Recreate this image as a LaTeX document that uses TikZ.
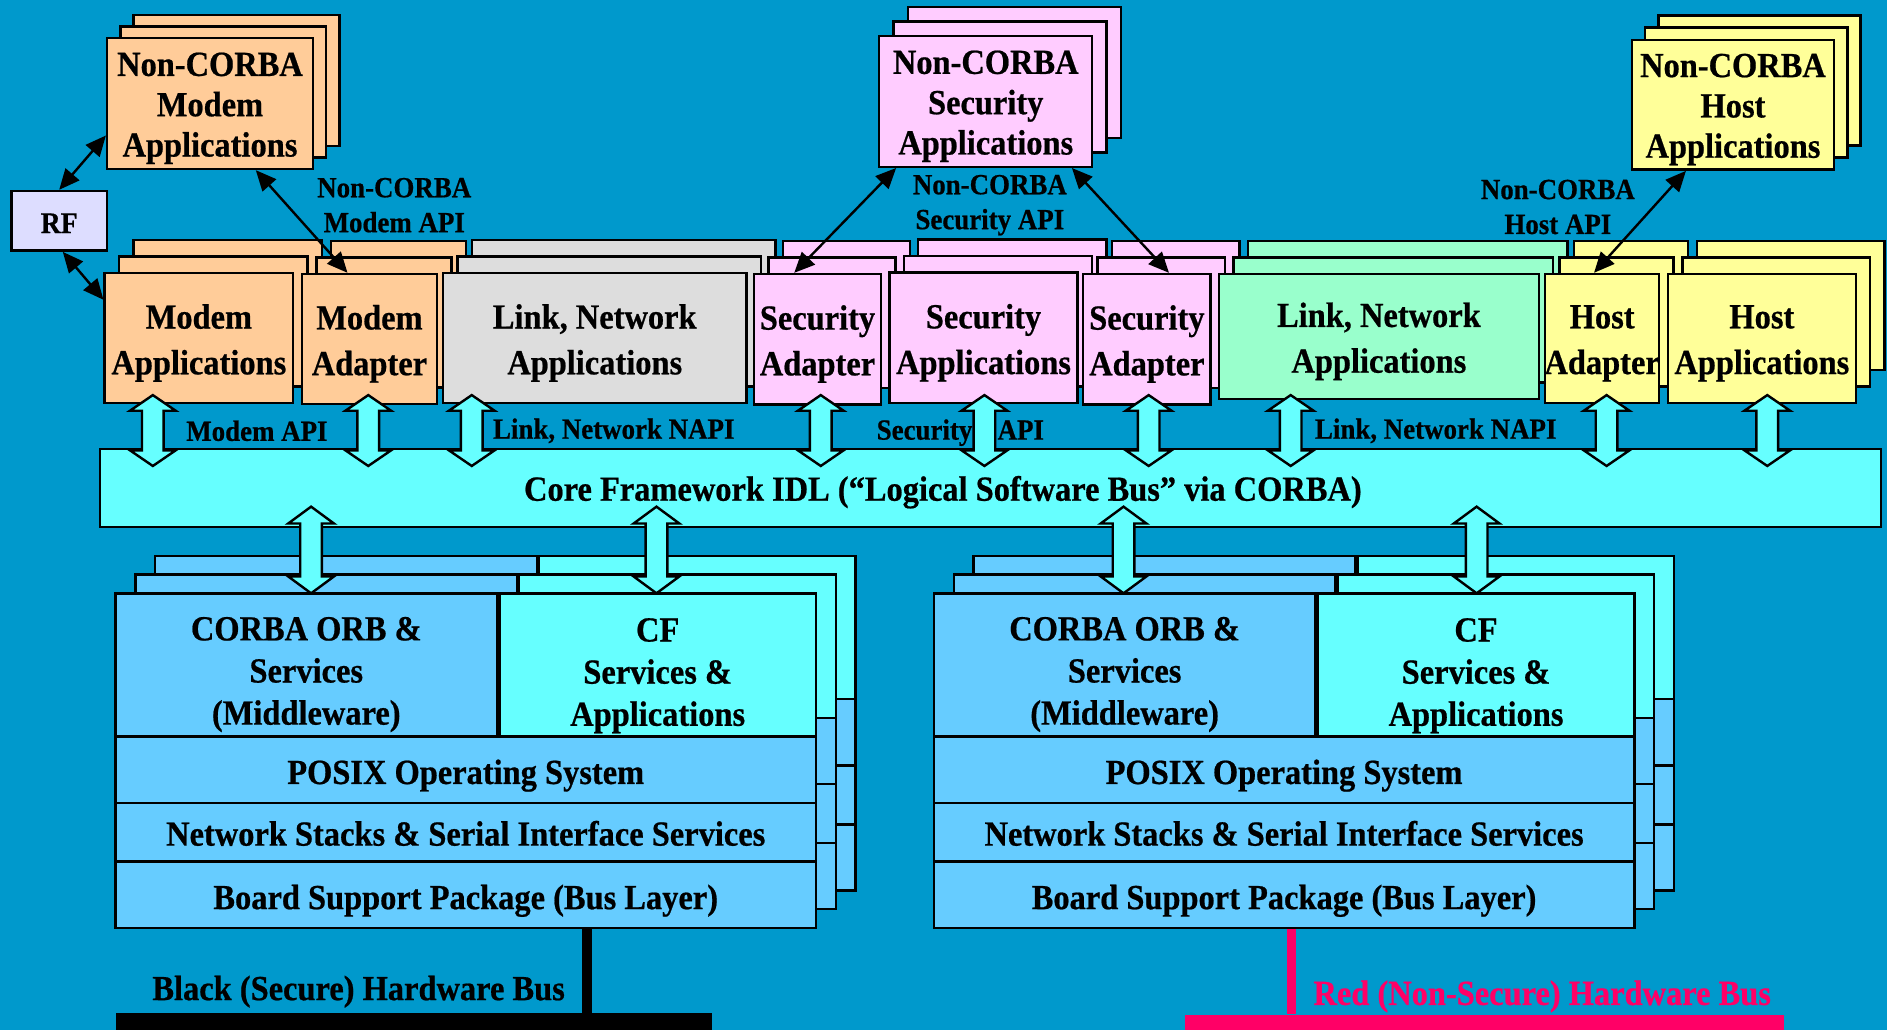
\documentclass[tikz,border=0pt]{standalone}
\usepackage{fontspec}
\setmainfont{Liberation Serif}[FakeStretch=0.92,BoldFeatures={FakeBold=0.6}]
\usetikzlibrary{arrows.meta,calc}

\definecolor{bg}{HTML}{0099CC}
\definecolor{cOrange}{HTML}{FFCC99}
\definecolor{cPink}{HTML}{FFCCFF}
\definecolor{cYellow}{HTML}{FFFF99}
\definecolor{cGray}{HTML}{DDDDDD}
\definecolor{cGreen}{HTML}{99FFCC}
\definecolor{cCyan}{HTML}{66FFFF}
\definecolor{cLtBlue}{HTML}{66CCFF}
\definecolor{cRF}{HTML}{DDDDFF}
\definecolor{cRed}{HTML}{FF0066}

\newcommand\topfont{\bfseries\fontsize{29.3}{33.5}\selectfont}
\newcommand\midfont{\bfseries\fontsize{29.3}{38}\selectfont}
\newcommand\stkfont{\bfseries\fontsize{29.3}{35}\selectfont}
\newcommand\apifont{\bfseries\fontsize{24.3}{29}\selectfont}
\newcommand\rffont{\bfseries\fontsize{25}{30}\selectfont}

% A box with two stacked copies behind it (up and to the right).
% #1 name, #2..#5 front box x1,y1,x2,y2, #6/#7 copy step (right/up), #8 fill, #9 text
\newcommand\appgroup[9]{%
  \foreach \k in {2,1}{%
    \draw[boxline,fill=#8] ({#2+\k*#6},{#3-\k*#7}) rectangle ({#4+\k*#6},{#5-\k*#7});}
  \node[boxline,fill=#8,minimum width={#4-#2},minimum height={#5-#3},inner sep=0pt]
    (#1) at ({(#2+#4)/2},{(#3+#5)/2}) {};
  \node[grptext,align=center,inner sep=0pt] at ([yshift=-4pt]#1.center) {#9};
}

% Double-headed block arrow: #1 x, #2 upper tip, #3 lower tip, #4 head length
\newcommand\blockarrow[4]{%
  \filldraw[blockarr] (#1,#2) -- ({#1+19},{#2+#4}) -- ({#1+9},{#2+#4}) -- ({#1+9},{#3-#4})
    -- ({#1+19},{#3-#4}) -- (#1,#3) -- ({#1-19},{#3-#4}) -- ({#1-9},{#3-#4})
    -- ({#1-9},{#2+#4}) -- ({#1-19},{#2+#4}) -- cycle;}

% One platform stack drawn behind the front one: #1 left x, #2 top y
\newcommand\stackcopy[2]{%
  \draw[boxline,fill=cLtBlue] (#1,#2) rectangle ({#1+317},{#2+119});
  \draw[boxline,fill=cCyan] ({#1+319},#2) rectangle ({#1+582},{#2+119});
  \draw[boxline,fill=cLtBlue] (#1,{#2+119}) rectangle ({#1+582},{#2+174});
  \draw[boxline,fill=cLtBlue] (#1,{#2+174}) rectangle ({#1+582},{#2+223});
  \draw[boxline,fill=cLtBlue] (#1,{#2+223}) rectangle ({#1+582},{#2+278});
}

% Front platform stack with named layers: #1 suffix, #2 left x
\newcommand\stackfront[2]{%
  \node[layer,fill=cLtBlue,minimum width=317,minimum height=119] (orb#1) at ({#2+158.5},552.5) {};
  \node[layer,fill=cCyan,minimum width=263,minimum height=119] (cf#1) at ({#2+450.5},552.5) {};
  \node[layer,fill=cLtBlue,minimum width=582,minimum height=55] (posix#1) at ({#2+291},639.5) {};
  \node[layer,fill=cLtBlue,minimum width=582,minimum height=49] (net#1) at ({#2+291},691.5) {};
  \node[layer,fill=cLtBlue,minimum width=582,minimum height=55] (bsp#1) at ({#2+291},743.5) {};
  \node[stext] at ([yshift=-8pt]orb#1.center) {CORBA ORB \&\\Services\\(Middleware)};
  \node[stext] at ([yshift=-9pt]cf#1.center) {CF\\Services \&\\Applications};
  \node[stext] at ([yshift=-5pt]posix#1.center) {POSIX Operating System};
  \node[stext] at ([yshift=-1pt]net#1.center) {Network Stacks \& Serial Interface Services};
  \node[stext] at ([yshift=-5pt]bsp#1.center) {Board Support Package (Bus Layer)};
}

\begin{document}
\begin{tikzpicture}[x=1pt,y=-1pt,
  boxline/.style={draw=black,line width=2pt},
  layer/.style={boxline,inner sep=0pt},
  stext/.style={font=\stkfont,align=center,inner sep=0pt},
  apilabel/.style={font=\apifont,align=center,inner sep=0pt},
  blockarr/.style={fill=cCyan,draw=black,line width=2pt,line join=miter},
  biarrow/.style={line width=2pt,{Triangle[length=17pt,width=15pt]}-{Triangle[length=17pt,width=15pt]}}]

\useasboundingbox (0,0) rectangle (1568,856);
\fill[bg] (0,0) rectangle (1568,856);

% Non-CORBA applications
\tikzset{grptext/.style={font=\topfont}}
\appgroup{ncm}{89}{31.6}{260}{140.4}{11}{9.5}{cOrange}{Non-CORBA\\Modem\\Applications}
\appgroup{ncs}{730.6}{30}{907.6}{138.6}{12}{12}{cPink}{Non-CORBA\\Security\\Applications}
\appgroup{nch}{1356}{33}{1524}{141}{11}{10}{cYellow}{Non-CORBA\\Host\\Applications}

% RF front end
\node[boxline,fill=cRF,minimum width=79,minimum height=49.6,inner sep=0pt] (rf) at (49.2,183.5) {};
\node[font=\rffont,inner sep=0pt] at ([yshift=-2pt]rf.center) {RF};

% CORBA application row
\tikzset{grptext/.style={font=\midfont}}
\appgroup{ma}{87}{227}{243.5}{335}{12}{13.8}{cOrange}{Modem\\Applications}
\appgroup{mad}{251}{227.7}{363}{335.7}{12}{13.8}{cOrange}{Modem\\Adapter}
\appgroup{ln1}{368}{227}{620.4}{335}{12}{13.8}{cGray}{Link, Network\\Applications}
\appgroup{sa1}{626.6}{227.7}{732}{336}{12}{13.8}{cPink}{Security\\Adapter}
\appgroup{sap}{739}{226.6}{895.5}{335}{12}{13.8}{cPink}{Security\\Applications}
\appgroup{sa2}{900}{227.7}{1006}{336}{12}{13.8}{cPink}{Security\\Adapter}
\appgroup{ln2}{1013}{227.7}{1278.6}{331.6}{12}{13.8}{cGreen}{Link, Network\\Applications}
\appgroup{had}{1284}{227.7}{1378.6}{335}{12}{13.8}{cYellow}{Host\\Adapter}
\appgroup{hap}{1386}{227.7}{1542}{335}{12}{13.8}{cYellow}{Host\\Applications}

% Core framework bus
\node[boxline,fill=cCyan,minimum width=1480,minimum height=65,inner sep=0pt] (core) at (823,405.5) {};
\node[font=\stkfont,inner sep=0pt] at (783.5,409) {Core Framework IDL (``Logical Software Bus'' via CORBA)};

% API labels
\node[apilabel] at (327.6,170.5) {Non-CORBA\\Modem API};
\node[apilabel] at (822.5,170.5) {Non-CORBA\\Security API};
\node[apilabel] at (1294.5,172) {Non-CORBA\\Host API};
\node[apilabel] at (213.5,358) {Modem API};
\node[apilabel] at (510,358) {Link, Network NAPI};
\node[apilabel] at (798,359.5) {Security\hspace{21pt}API};
\node[apilabel] at (1193,358) {Link, Network NAPI};

% Platform stacks (two copies behind each)
\stackcopy{129}{462}
\stackcopy{112.5}{477.5}
\stackfront{L}{96}
\stackcopy{809}{462}
\stackcopy{792.5}{477.5}
\stackfront{R}{776}

% Block arrows: applications <-> core framework
\foreach \x in {127,306,392,682,818,954.5,1072.5,1335,1468.5}{\blockarrow{\x}{328.3}{387.2}{13}}
% Block arrows: core framework <-> platform
\foreach \x in {258.5,545.5,933.6,1227}{\blockarrow{\x}{421}{493}{14}}

% Non-CORBA interfaces
\draw[biarrow] (rf.north) -- ($(ncm.south west)!0.26!(ncm.north west)$);
\draw[biarrow] ([xshift=3pt]rf.south) -- ($(ma.north west)!0.21!(ma.south west)$);
\draw[biarrow] ($(ncm.south west)!0.72!(ncm.south east)$) -- ($(mad.north west)!0.34!(mad.north east)$);
\draw[biarrow] ($(ncs.south west)!0.084!(ncs.south east)$) -- ($(sa1.north west)!0.32!(sa1.north east)$);
\draw[biarrow] ($(ncs.south west)!0.9!(ncs.south east)$) -- ($(sa2.north west)!0.67!(sa2.north east)$);
\draw[biarrow] ($(nch.south west)!0.27!(nch.south east)$) -- ($(had.north west)!0.43!(had.north east)$);

% Hardware buses
\node[fill=black,minimum width=496,minimum height=14,inner sep=0pt] (barL) at (344,849) {};
\coordinate (tapL) at ([xshift=393pt]bspL.south west);
\draw[line width=8pt] (tapL) -- (tapL |- barL.north);
\node[font=\stkfont,inner sep=0pt] at (298,824) {Black (Secure) Hardware Bus};

\node[fill=cRed,minimum width=497,minimum height=13,inner sep=0pt] (barR) at (1233.5,849.5) {};
\coordinate (tapR) at ([xshift=298pt]bspR.south west);
\draw[cRed,line width=7pt] (tapR) -- (tapR |- barR.north);
\node[font=\stkfont,text=cRed,inner sep=0pt] at (1281.5,828) {Red (Non-Secure) Hardware Bus};
\end{tikzpicture}
\end{document}
